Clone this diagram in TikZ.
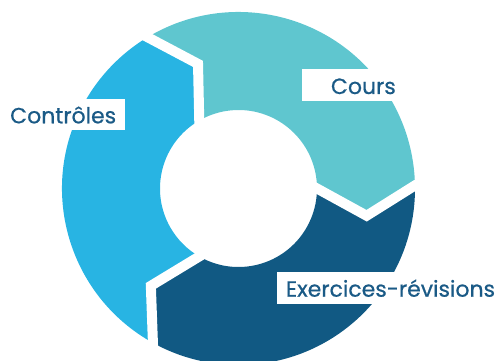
\documentclass[tikz,border=0pt]{standalone}
\usepackage{fontspec}
\setmainfont{Poppins}[FakeBold=0.6]
\usepackage{tikz}
\usetikzlibrary{positioning,calc}
\definecolor{coursteal}{HTML}{5FC6CF}
\definecolor{ctrlblue}{HTML}{28B4E3}
\definecolor{exonavy}{HTML}{115983}
\definecolor{labelblue}{HTML}{1A5A86}

\begin{document}
\begin{tikzpicture}[x=1pt, y=1pt,
    gap/.style={white, line width=10pt},
    lbl/.style={fill=white, text=labelblue, font=\fontsize{22}{26}\selectfont,
        inner xsep=9pt, inner ysep=0pt, text height=24.5pt, text depth=7pt}]
    \useasboundingbox (-238.5,-172.5) rectangle (262.5,188.5);

    % Ring segments (clockwise arrows)
    \foreach \a/\col in {120/coursteal, 0/exonavy, -120/ctrlblue} {
        \fill[\col] (\a:78.5) -- (\a-12:131) -- (\a+1:176.5)
            arc[start angle=\a+1, end angle=\a-119, radius=176.5]
            -- (\a-132:131) -- (\a-120:78.5)
            arc[start angle=\a-120, end angle=\a, radius=78.5] -- cycle;
    }

    % White gaps between the segments
    \foreach \a in {0,120,240}
        \draw[gap] ($(\a-12:131)!1.3!(\a:78.5)$) -- (\a-12:131)
            -- ($(\a-12:131)!1.2!(\a+1:176.5)$);

    % Labels
    \node[lbl, anchor=base east, text width=85pt, align=right] (cours) at (166.5,94.5) {Cours};
    \node[lbl, anchor=base west] (controles) at (-237.5,65.2) {Contrôles};
    \node[lbl, anchor=base west] (exercices) at (38.2,-108.2) {Exercices-révisions};
\end{tikzpicture}
\end{document}
